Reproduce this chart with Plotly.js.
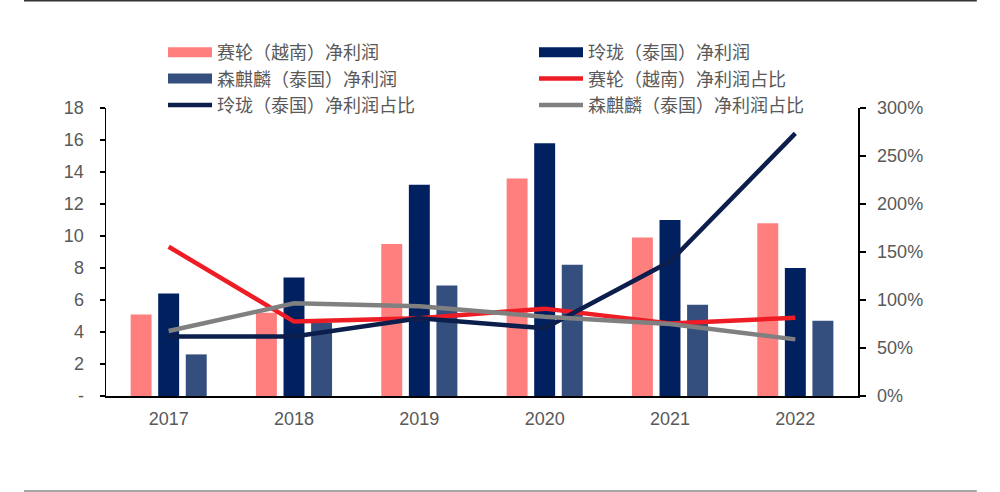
<!DOCTYPE html>
<html>
<head>
<meta charset="utf-8">
<script src="https://cdn.plot.ly/plotly-3.0.1.min.js"></script>
<style>html,body{margin:0;padding:0;background:#fff;}#chart{width:1000px;height:492px;}</style>
</head>
<body>
<div id="chart"></div>
<script>
const years = ['2017', '2018', '2019', '2020', '2021', '2022'];
const sailunProfit = [5.1, 5.2, 9.5, 13.6, 9.9, 10.8];
const linglongProfit = [6.4, 7.4, 13.2, 15.8, 11.0, 8.0];
const senqilinProfit = [2.6, 4.6, 6.9, 8.2, 5.7, 4.7];
const sailunShare = [1.555, 0.775, 0.81, 0.91, 0.755, 0.815];
const linglongShare = [0.62, 0.62, 0.81, 0.705, 1.40, 2.735];
const senqilinShare = [0.677, 0.965, 0.935, 0.826, 0.75, 0.59];
const leftTickVals = [0, 2, 4, 6, 8, 10, 12, 14, 16, 18];
const leftTickText = ['-', '2', '4', '6', '8', '10', '12', '14', '16', '18'];
const names = ['赛轮（越南）净利润', '玲珑（泰国）净利润', '森麒麟（泰国）净利润',
               '赛轮（越南）净利润占比', '玲珑（泰国）净利润占比', '森麒麟（泰国）净利润占比'];

const cPink = '#FF7F7F', cNavy = '#002060', cBlue = '#344F7D';
const cRed = '#EE1C25', cNavyLine = '#0B1E4C', cGray = '#808080';

const barTrace = (y, color, name) => ({
  type: 'bar', x: years, y: y, name: name, marker: {color: color},
  showlegend: false, hoverinfo: 'x+y'
});
const legendBar = (color, name) => ({
  type: 'scatter', mode: 'lines', x: [null], y: [null], name: name,
  line: {color: color, width: 10}, showlegend: true, hoverinfo: 'skip'
});
const lineTrace = (y, color, name) => ({
  type: 'scatter', mode: 'lines', x: years, y: y, name: name, yaxis: 'y2',
  line: {color: color, width: 4.5}
});

const data = [
  barTrace(sailunProfit, cPink, names[0]),
  barTrace(linglongProfit, cNavy, names[1]),
  barTrace(senqilinProfit, cBlue, names[2]),
  legendBar(cPink, names[0]),
  legendBar(cNavy, names[1]),
  legendBar(cBlue, names[2]),
  lineTrace(sailunShare, cRed, names[3]),
  lineTrace(linglongShare, cNavyLine, names[4]),
  lineTrace(senqilinShare, cGray, names[5])
];

const tickFont = {family: 'Liberation Sans, Arial, sans-serif', size: 18, color: '#595959'};

const layout = {
  width: 1000, height: 492,
  margin: {l: 106, r: 142, t: 108, b: 96, pad: 0, autoexpand: false},
  paper_bgcolor: '#ffffff', plot_bgcolor: '#ffffff',
  barmode: 'group', bargap: 0.34, bargroupgap: 0.24,
  showlegend: true,
  legend: {
    orientation: 'h', xref: 'container', yref: 'container',
    x: 0.163, y: 0.931, xanchor: 'left', yanchor: 'top',
    entrywidth: 312, entrywidthmode: 'pixels', itemwidth: 44,
    font: {family: 'Noto Sans CJK SC, sans-serif', size: 18, color: '#595959'},
    bgcolor: 'rgba(0,0,0,0)', traceorder: 'normal'
  },
  xaxis: {
    type: 'category', tickfont: tickFont, showgrid: false, zeroline: false,
    showline: true, linecolor: '#000000', linewidth: 2, ticks: '', ticklabelstandoff: 5
  },
  yaxis: {
    range: [0, 18], tickvals: leftTickVals, ticktext: leftTickText, tickfont: tickFont,
    showgrid: false, zeroline: false, showline: true, linecolor: '#000000', linewidth: 1.5,
    ticks: 'outside', ticklen: 5, tickcolor: '#000000', tickwidth: 1.5, ticklabelstandoff: 12
  },
  yaxis2: {
    overlaying: 'y', side: 'right', range: [0, 3], dtick: 0.5, tickformat: '.0%',
    tickfont: tickFont, showgrid: false, zeroline: false, showline: true,
    linecolor: '#000000', linewidth: 1.5, ticks: 'outside', ticklen: 6,
    tickcolor: '#000000', tickwidth: 1.5, ticklabelstandoff: 8
  },
  shapes: [
    {type: 'line', xref: 'paper', yref: 'paper', x0: -0.109, x1: 1.158, y0: 1.372, y1: 1.372,
     line: {color: '#333333', width: 1.5}},
    {type: 'line', xref: 'paper', yref: 'paper', x0: -0.109, x1: 1.158, y0: -0.330, y1: -0.330,
     line: {color: '#888888', width: 1.5}}
  ]
};

Plotly.newPlot('chart', data, layout, {displayModeBar: false, staticPlot: true});
</script>
</body>
</html>
